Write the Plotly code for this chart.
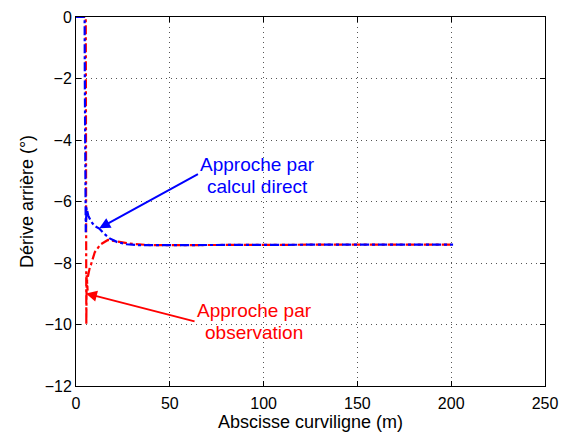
import plotly.graph_objects as go

# calcul direct (bleu)
x_direct = [0, 4.6, 4.7, 4.8, 4.9, 5.0, 5.2, 5.6, 6.5, 8, 10, 12.4, 15, 18, 22, 27, 33, 40, 60, 100, 150, 201]
y_direct = [0, 0, -2, -4, -6, -6.9, -7.0, -6.2, -6.45, -6.65, -6.8, -6.88, -7.05, -7.2, -7.32, -7.39, -7.42, -7.42, -7.41, -7.41, -7.4, -7.4]

# observation (rouge)
x_obs = [0, 5.2, 5.3, 5.4, 5.5, 5.5, 5.6, 5.7, 6.2, 5.8, 6.5, 7.0, 7.5, 8, 10, 13, 17, 22, 30, 40, 60, 100, 150, 201]
y_obs = [0, 0, -3, -6, -8, -10, -9.2, -8.4, -8.9, -8.6, -8.4, -8.2, -8.1, -8.05, -7.65, -7.4, -7.25, -7.3, -7.38, -7.42, -7.41, -7.41, -7.4, -7.4]

fig = go.Figure()
fig.add_trace(go.Scatter(x=x_obs, y=y_obs, mode='lines', line=dict(color='red', width=2.2, dash='dashdot')))
fig.add_trace(go.Scatter(x=x_direct, y=y_direct, mode='lines', line=dict(color='blue', width=2.2, dash='dashdot')))

# flèches
fig.add_annotation(x=12.4, y=-6.87, ax=65.8, ay=-5.08, xref='x', yref='y', axref='x', ayref='y',
                   text='', showarrow=True, arrowhead=2, arrowsize=1.1, arrowwidth=2, arrowcolor='blue')
fig.add_annotation(x=5.3, y=-8.99, ax=64, ay=-9.91, xref='x', yref='y', axref='x', ayref='y',
                   text='', showarrow=True, arrowhead=2, arrowsize=1.1, arrowwidth=2, arrowcolor='red')

# textes (une ligne par annotation)
txt = dict(showarrow=False, font_size=19, font_family='Liberation Sans')
fig.add_annotation(x=96.5, y=-4.8, text='Approche par', font_color='blue', **txt)
fig.add_annotation(x=96.5, y=-5.52, text='calcul direct', font_color='blue', **txt)
fig.add_annotation(x=95, y=-9.55, text='Approche par', font_color='red', **txt)
fig.add_annotation(x=95, y=-10.27, text='observation', font_color='red', **txt)

axis_style = dict(showline=True, mirror='ticks', linecolor='black', linewidth=1,
                  ticks='inside', ticklen=5, tickcolor='black', automargin=False,
                  showgrid=True, gridcolor='#555555', griddash='1px,4px', gridwidth=1,
                  zeroline=False, tickfont=dict(size=16, color='black'))

fig.update_xaxes(range=[0, 250], dtick=50, ticklabelstandoff=3,
                 title=dict(text='Abscisse curviligne (m)', font=dict(size=18), standoff=10), **axis_style)
fig.update_yaxes(range=[-12, 0], dtick=2, title=dict(text='Dérive arrière (°)', font=dict(size=18), standoff=6), **axis_style)

# la page ajoute 8px de marge autour de la figure
fig.update_layout(width=552, height=424, showlegend=False,
                  margin=dict(l=68, r=15, t=9, b=46),
                  plot_bgcolor='white', paper_bgcolor='white',
                  font=dict(family='Liberation Sans', color='black'))
fig.write_html("out.html")
